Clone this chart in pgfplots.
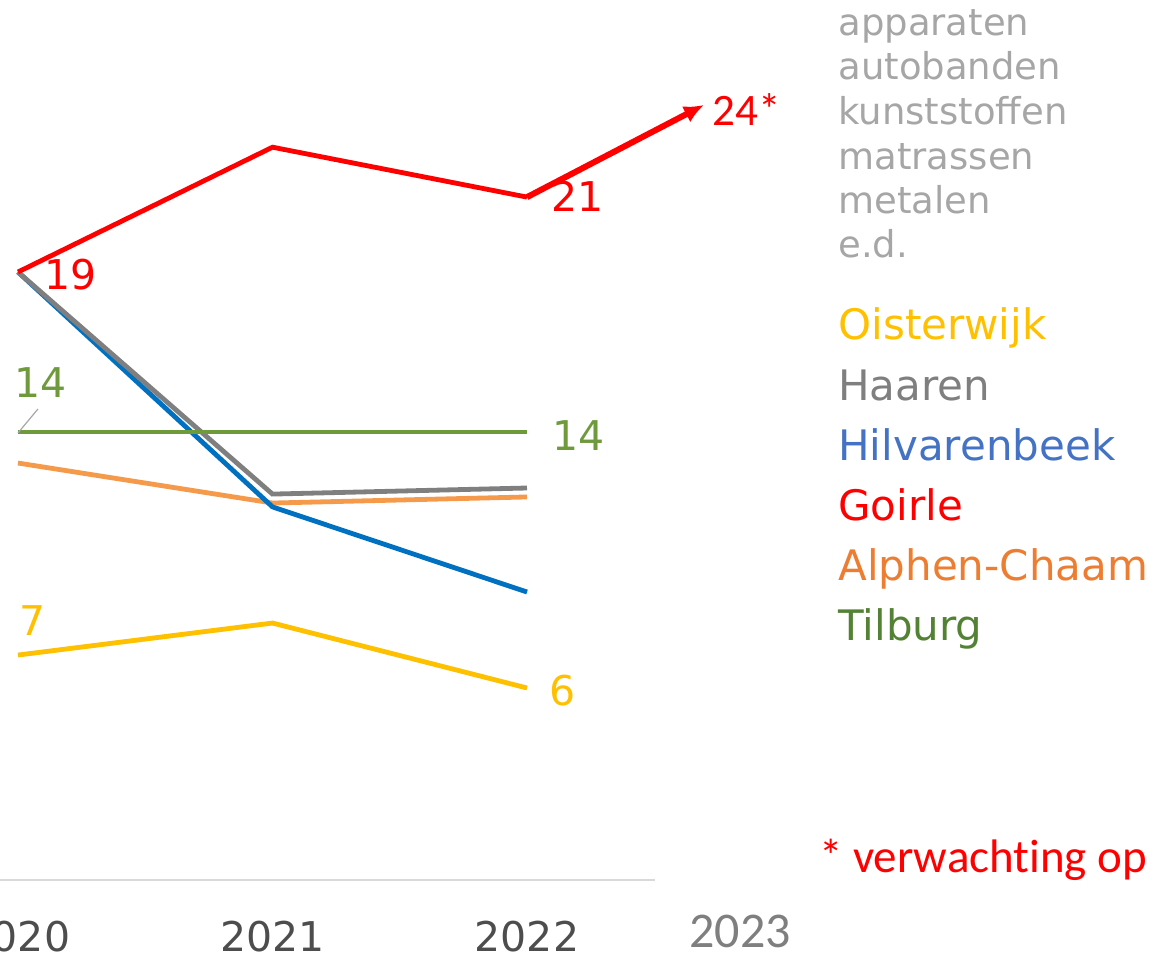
\documentclass[border=0pt]{standalone}
\usepackage{pgfplots}
\pgfplotsset{compat=1.18}
\usepackage{fontspec}
\setmainfont{DejaVu Sans}
\newfontfamily\carlito[Ligatures=NoCommon]{Carlito}
\usetikzlibrary{arrows.meta}
\definecolor{cYel}{HTML}{FFC000}
\definecolor{cGry}{HTML}{7F7F7F}
\definecolor{cBluL}{HTML}{0070C0}
\definecolor{cBluT}{HTML}{4472C4}
\definecolor{cRed}{HTML}{FF0000}
\definecolor{cOrL}{HTML}{F59A4A}
\definecolor{cOrT}{HTML}{ED7D31}
\definecolor{cGrnL}{HTML}{6F9A3C}
\definecolor{cGrnT}{HTML}{548235}
\definecolor{cLeg}{HTML}{A6A6A6}
\definecolor{cTick}{HTML}{4D4D4D}
\definecolor{cAx}{HTML}{D9D9D9}
\begin{document}
\begin{tikzpicture}
\begin{axis}[
  scale only axis, width=579.5pt, height=477.5pt,
  xmin=2019.9293, xmax=2024.4833, ymin=-2.34375, ymax=27.5,
  axis x line=middle, axis y line=none,
  x axis line style={draw=none},
  xtick={2020,2021,2022}, xticklabels={2020,2021,2022},
  xtick style={draw=none},
  xticklabel style={anchor=base, yshift=-33.5pt, inner sep=0pt, text depth=0pt, text=cTick, font=\fontsize{20.5}{24}\selectfont},
  ytick=\empty,
  clip=false,
  every node/.append style={inner sep=0pt},
]
\draw[cAx, line width=1.2pt] (axis cs:2019.9293,0) -- (axis cs:2022.503,0);
% Alphen-Chaam
\addplot[cOrL, line width=2.4pt] coordinates {(2020,13.03) (2021,11.78) (2022,11.97)};
% Hilvarenbeek
\addplot[cBluL, line width=2.4pt] coordinates {(2020,19) (2021,11.66) (2022,9.0)};
% Haaren
\addplot[cGry, line width=2.4pt] coordinates {(2020,19) (2021,12.06) (2022,12.25)};
% Tilburg
\addplot[cGrnL, line width=2.4pt] coordinates {(2020,14) (2021,14) (2022,14)};
% Oisterwijk
\addplot[cYel, line width=2.4pt] coordinates {(2020,7.03) (2021,8.03) (2022,6.0)};
% Goirle
\addplot[cRed, line width=2.4pt] coordinates {(2020,19) (2021,22.9) (2022,21.34)};
\addplot[cRed, line width=3pt, -{Latex[length=10pt,width=9pt]}] coordinates {(2022,21.34) (2022.6955,24.22)};
% leader line
\draw[cLeg, line width=0.6pt] (axis cs:2020,13.97) -- (axis cs:2020.0786,14.72);
% data labels
\node[anchor=base west, text=cRed, font=\fontsize{20.5}{24}\selectfont] at (axis cs:2020.075,18.4375) {19};
\node[anchor=base west, text=cRed, font=\fontsize{20.5}{24}\selectfont] at (axis cs:2022.067,20.875) {21};
\node[anchor=base west, text=cRed, font=\carlito\fontsize{22.5}{26}\selectfont] at (axis cs:2022.703,23.59) {24*};
\node[anchor=base west, text=cGrnL, font=\fontsize{20.5}{24}\selectfont] at (axis cs:2019.957,15.09) {14};
\node[anchor=base west, text=cGrnL, font=\fontsize{20.5}{24}\selectfont] at (axis cs:2022.071,13.41) {14};
\node[anchor=base west, text=cYel, font=\fontsize{20.5}{24}\selectfont] at (axis cs:2019.977,7.656) {7};
\node[anchor=base west, text=cYel, font=\fontsize{20.5}{24}\selectfont] at (axis cs:2022.059,5.469) {6};
% 2023
\node[anchor=base, text=cGry, font=\carlito\fontsize{25}{30}\selectfont] at (axis cs:2022.837,-2.094) {2023};
% grey legend
\begin{scope}[every node/.style={anchor=base west, inner sep=0pt, text=cLeg, font=\fontsize{18.5}{22}\selectfont}]
\node at (axis cs:2023.222,26.406) {apparaten};
\node at (axis cs:2023.222,25.0) {autobanden};
\node at (axis cs:2023.222,23.594) {kunststoffen};
\node at (axis cs:2023.222,22.1875) {matrassen};
\node at (axis cs:2023.222,20.8125) {metalen};
\node at (axis cs:2023.222,19.4375) {e.d.};
\end{scope}
% city names
\begin{scope}[every node/.style={anchor=base west, inner sep=0pt, font=\fontsize{21}{25}\selectfont}]
\node[text=cYel] at (axis cs:2023.222,16.906) {Oisterwijk};
\node[text=cGry] at (axis cs:2023.222,15.0) {Haaren};
\node[text=cBluT] at (axis cs:2023.222,13.125) {Hilvarenbeek};
\node[text=cRed] at (axis cs:2023.222,11.25) {Goirle};
\node[text=cOrT] at (axis cs:2023.222,9.375) {Alphen-Chaam};
\node[text=cGrnT] at (axis cs:2023.222,7.5) {Tilburg};
\end{scope}
\node[anchor=base west, text=cRed, font=\carlito\fontsize{23.5}{28}\selectfont] at (axis cs:2023.120,0.25) {* verwacht\kern0pt ing op};
\coordinate (SW) at (rel axis cs:0,0);
\coordinate (NE) at (rel axis cs:1,1);
\end{axis}
\pgfresetboundingbox
\path[use as bounding box] (SW) rectangle (NE);
\end{tikzpicture}
\end{document}
